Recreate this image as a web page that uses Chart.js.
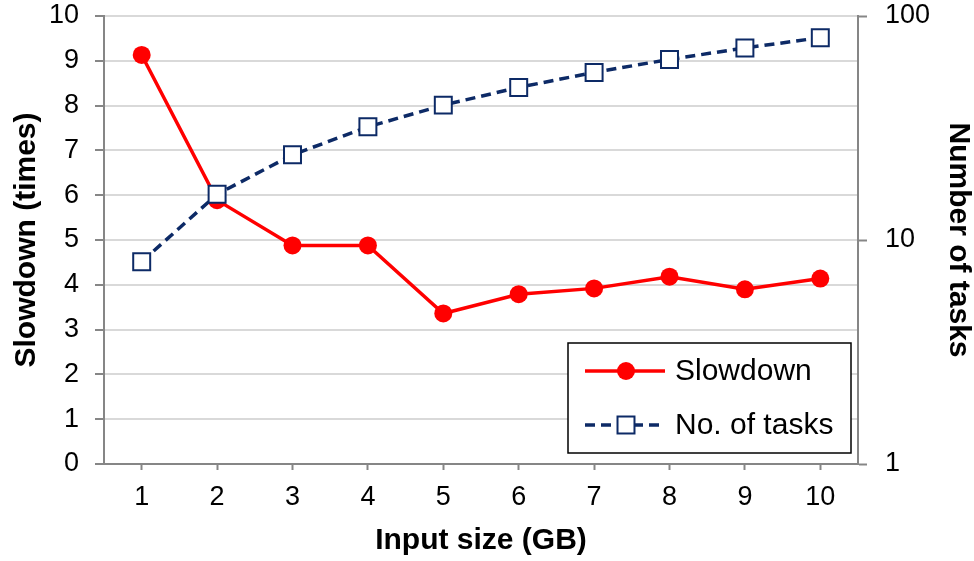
<!DOCTYPE html>
<html>
<head>
<meta charset="utf-8">
<script src="https://cdn.jsdelivr.net/npm/chart.js@4.4.0/dist/chart.umd.min.js"></script>
<style>
  html, body { margin: 0; padding: 0; background: #ffffff; }
  #wrap { width: 974px; height: 561px; }
</style>
</head>
<body>
<div id="wrap"><canvas id="chart" width="974" height="561"></canvas></div>
<script>
// Input size (GB)
const inputSizes = ['1', '2', '3', '4', '5', '6', '7', '8', '9', '10'];
// Slowdown (times), left axis
const slowdown = [9.13, 5.89, 4.88, 4.88, 3.36, 3.79, 3.92, 4.18, 3.9, 4.14];
// Number of tasks, right (log) axis
const numTasks = [8, 16, 24, 32, 40, 48, 56, 64, 72, 80];
const rightTicks = [1, 10, 100];

const FONT = '"Liberation Sans", Arial, sans-serif';
const AXIS_GRAY = '#868686';
const GRID_GRAY = '#d9d9d9';

// legend drawn in a box inside the plot, bottom right
const boxLegend = {
    id: 'boxLegend',
    afterDraw(chart) {
        const ctx = chart.ctx;
        const area = chart.chartArea;
        const w = 283, h = 110;
        const x = area.right - 7 - w;
        const y = area.bottom - 11 - h;
        ctx.save();
        ctx.fillStyle = '#ffffff';
        ctx.fillRect(x, y, w, h);
        ctx.strokeStyle = '#000000';
        ctx.lineWidth = 1.5;
        ctx.strokeRect(x, y, w, h);

        chart.data.datasets.forEach((ds, i) => {
            const cy = y + 28 + i * 54;
            const x0 = x + 17, x1 = x + 97, mx = x + 58;
            ctx.strokeStyle = ds.borderColor;
            ctx.lineWidth = ds.borderWidth;
            ctx.setLineDash(ds.borderDash || []);
            ctx.beginPath();
            ctx.moveTo(x0, cy);
            ctx.lineTo(x1, cy);
            ctx.stroke();
            ctx.setLineDash([]);
            if (ds.pointStyle === 'rect') {
                const s = ds.pointRadius * Math.SQRT2;
                ctx.fillStyle = ds.pointBackgroundColor;
                ctx.fillRect(mx - s / 2, cy - s / 2, s, s);
                ctx.lineWidth = ds.pointBorderWidth;
                ctx.strokeStyle = ds.pointBorderColor;
                ctx.strokeRect(mx - s / 2, cy - s / 2, s, s);
            } else {
                ctx.fillStyle = ds.pointBackgroundColor;
                ctx.beginPath();
                ctx.arc(mx, cy, ds.pointRadius, 0, Math.PI * 2);
                ctx.fill();
            }
            ctx.fillStyle = '#000000';
            ctx.font = '30px ' + FONT;
            ctx.textAlign = 'left';
            ctx.textBaseline = 'middle';
            ctx.fillText(ds.label, x + 107, cy + 1);
        });
        ctx.restore();
    }
};

// fixed axis sizes, no extra padding for overhanging labels
function fixVertical(width) {
    return function (scale) {
        scale.width = width;
        scale.paddingTop = 0;
        scale.paddingBottom = 0;
    };
}

const chart = new Chart(document.getElementById('chart'), {
    type: 'line',
    data: {
        labels: inputSizes,
        datasets: [
            {
                label: 'Slowdown',
                data: slowdown,
                yAxisID: 'y',
                borderColor: '#ff0000',
                borderWidth: 3.5,
                pointStyle: 'circle',
                pointRadius: 9,
                pointBackgroundColor: '#ff0000',
                pointBorderColor: '#ff0000',
                pointBorderWidth: 0,
                tension: 0,
                order: 2
            },
            {
                label: 'No. of tasks',
                data: numTasks,
                yAxisID: 'y1',
                borderColor: '#0d2a66',
                borderWidth: 3.5,
                borderDash: [10, 6],
                pointStyle: 'rect',
                pointRadius: 12,
                pointBackgroundColor: '#ffffff',
                pointBorderColor: '#0d2a66',
                pointBorderWidth: 2,
                tension: 0,
                order: 1
            }
        ]
    },
    options: {
        responsive: false,
        animation: false,
        layout: { padding: { top: 16, left: 0, right: 0, bottom: 0 } },
        plugins: {
            legend: { display: false },
            tooltip: { enabled: false }
        },
        scales: {
            x: {
                offset: true,
                grid: {
                    offset: false,
                    drawOnChartArea: false,
                    drawTicks: true,
                    tickLength: 6,
                    tickColor: AXIS_GRAY,
                    tickWidth: 2
                },
                border: { color: AXIS_GRAY, width: 2 },
                ticks: {
                    color: '#000000',
                    padding: 14,
                    maxRotation: 0,
                    font: { family: FONT, size: 27, lineHeight: 1 }
                },
                title: {
                    display: true,
                    text: 'Input size (GB)',
                    color: '#000000',
                    padding: { top: 0, bottom: 5 },
                    font: { family: FONT, size: 30, weight: 'bold', lineHeight: 1 }
                },
                afterFit(scale) {
                    scale.height = 97;
                    scale.paddingLeft = 0;
                    scale.paddingRight = 0;
                }
            },
            y: {
                position: 'left',
                min: 0,
                max: 10,
                ticks: {
                    stepSize: 1,
                    color: '#000000',
                    padding: 16,
                    font: { family: FONT, size: 27, lineHeight: 1 }
                },
                grid: {
                    color: GRID_GRAY,
                    lineWidth: 2,
                    tickLength: 9,
                    tickColor: AXIS_GRAY,
                    tickWidth: 2
                },
                border: { color: AXIS_GRAY, width: 2 },
                title: {
                    display: true,
                    text: 'Slowdown (times)',
                    color: '#000000',
                    padding: { top: 12, bottom: 0 },
                    font: { family: FONT, size: 30, weight: 'bold', lineHeight: 1 }
                },
                afterFit: fixVertical(104)
            },
            y1: {
                type: 'logarithmic',
                position: 'right',
                min: 1,
                max: 100,
                afterBuildTicks(scale) {
                    scale.ticks = rightTicks.map(v => ({ value: v, major: true }));
                },
                ticks: {
                    color: '#000000',
                    padding: 18,
                    callback: (v) => String(v),
                    font: { family: FONT, size: 27, lineHeight: 1 }
                },
                grid: {
                    drawOnChartArea: false,
                    tickLength: 9,
                    tickColor: AXIS_GRAY,
                    tickWidth: 2
                },
                border: { color: AXIS_GRAY, width: 2 },
                title: {
                    display: true,
                    text: 'Number of tasks',
                    color: '#000000',
                    padding: { top: 1, bottom: 0 },
                    font: { family: FONT, size: 30, weight: 'bold', lineHeight: 1 }
                },
                afterFit: fixVertical(116)
            }
        }
    },
    plugins: [boxLegend]
});
</script>
</body>
</html>
